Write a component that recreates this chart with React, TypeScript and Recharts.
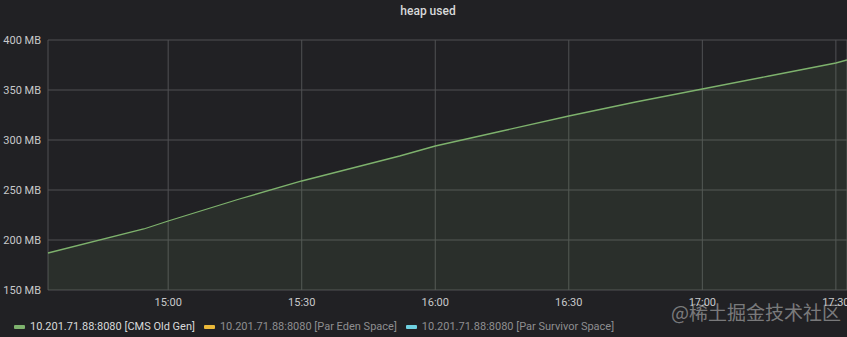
// @ts-nocheck
import { AreaChart, Area, XAxis, YAxis, CartesianGrid } from "recharts";

// minutes after 14:00
const TIMES = [33, 54.5, 60, 76, 90, 112, 120, 135, 150, 165, 180, 195, 210, 212.5];
const CMS_OLD_GEN = [187, 211, 219, 241, 259, 284, 294, 309, 324, 338, 351, 364, 377, 380];

const X_TICKS = [60, 90, 120, 150, 180, 210];
const Y_TICKS = [150, 200, 250, 300, 350, 400];

const SERIES = [
  { name: "10.201.71.88:8080 [CMS Old Gen]", color: "#7EB26D", hidden: false },
  { name: "10.201.71.88:8080 [Par Eden Space]", color: "#EAB839", hidden: true },
  { name: "10.201.71.88:8080 [Par Survivor Space]", color: "#6ED0E0", hidden: true },
];

const data = TIMES.map((t, i) => ({ t, old: CMS_OLD_GEN[i] }));

const fmtTime = (m: number) => {
  const h = 14 + Math.floor(m / 60);
  const mm = Math.round(m % 60);
  return `${h}:${mm < 10 ? "0" + mm : mm}`;
};

const BG = "#212124";
const GRID = "#505153";
const TEXT = "#c8c9cb";
const FONT = "Roboto, 'Noto Sans', sans-serif";

const YTick = ({ x, y, payload }) => (
  <text
    x={x}
    y={y}
    dy="0.35em"
    textAnchor="end"
    fontSize={11}
    fill={TEXT}
    fontFamily={FONT}
  >
    {`${payload.value} MB`}
  </text>
);

export default function App() {
  return (
    <div
      style={{
        position: "fixed",
        left: 0,
        top: 0,
        width: 847,
        height: 337,
        background: BG,
        fontFamily: FONT,
        overflow: "hidden",
      }}
    >
      <div
        style={{
          position: "absolute",
          top: 3,
          left: 0,
          width: 856,
          textAlign: "center",
          color: "#d8d9da",
          fontSize: 12,
          fontWeight: 500,
          lineHeight: "16px",
        }}
      >
        heap used
      </div>
      <AreaChart
        width={847}
        height={337}
        data={data}
        margin={{ top: 40, right: 0, left: 0, bottom: 0 }}
      >
        <CartesianGrid stroke={GRID} strokeWidth={1} />
        <XAxis
          dataKey="t"
          type="number"
          domain={[33, 212.5]}
          ticks={X_TICKS}
          interval={0}
          tickFormatter={fmtTime}
          height={47}
          axisLine={false}
          tickLine={false}
          tick={{ fontSize: 11, fill: TEXT, fontFamily: FONT }}
        />
        <YAxis
          type="number"
          domain={[150, 400]}
          ticks={Y_TICKS}
          interval={0}
          width={48}
          axisLine={false}
          tickLine={false}
          tickSize={6}
          tickMargin={1}
          tick={<YTick />}
        />
        <Area
          type="linear"
          dataKey="old"
          stroke="#7EB26D"
          strokeWidth={1.3}
          fill="#7EB26D"
          fillOpacity={0.1}
          isAnimationActive={false}
          dot={false}
          activeDot={false}
        />
      </AreaChart>
      <div
        style={{
          position: "absolute",
          left: 14,
          top: 319,
          display: "flex",
          alignItems: "center",
          fontSize: 11,
          lineHeight: "15px",
        }}
      >
        {SERIES.map((s) => (
          <div
            key={s.name}
            style={{ display: "flex", alignItems: "center", marginRight: 9 }}
          >
            <span
              style={{
                display: "inline-block",
                width: 11,
                height: 4,
                borderRadius: 1,
                background: s.color,
                marginRight: 5,
              }}
            />
            <span style={{ color: s.hidden ? "#8e8e90" : "#d8d9da" }}>{s.name}</span>
          </div>
        ))}
      </div>
      <div
        style={{
          position: "absolute",
          left: 671,
          top: 299,
          fontSize: 19,
          lineHeight: "26px",
          color: "rgba(235,235,235,0.45)",
          fontFamily: "'Noto Sans CJK SC', sans-serif",
        }}
      >
        @稀土掘金技术社区
      </div>
    </div>
  );
}
